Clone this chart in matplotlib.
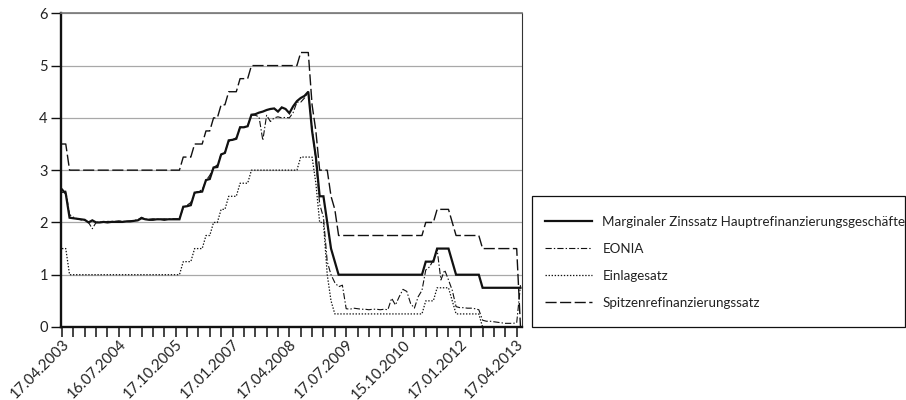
import matplotlib.pyplot as plt
import matplotlib.patches as mpatches
import numpy as np

plt.rcParams['font.family'] = ['Lato', 'DejaVu Sans']
plt.rcParams['lines.scale_dashes'] = False

# monthly values (17th of each month), April 2003 .. May 2013
mro_marginal = [
    2.63, 2.55, 2.09, 2.08, 2.07, 2.06, 2.05, 2.00, 2.04, 2.00, 2.00, 2.01,
    2.00, 2.01, 2.01, 2.01, 2.01, 2.02, 2.02, 2.03, 2.04, 2.08, 2.06, 2.05,
    2.05, 2.06, 2.06, 2.05, 2.06, 2.06, 2.06, 2.06, 2.30, 2.31, 2.33, 2.57,
    2.58, 2.59, 2.81, 2.83, 3.05, 3.06, 3.30, 3.33, 3.57, 3.58, 3.60, 3.82,
    3.82, 3.84, 4.06, 4.07, 4.10, 4.12, 4.15, 4.17, 4.18, 4.12, 4.20, 4.17,
    4.09, 4.22, 4.32, 4.38, 4.42, 4.50, 3.75, 3.25, 2.50, 2.50, 2.00, 1.50,
    1.25, 1.00, 1.00, 1.00, 1.00, 1.00, 1.00, 1.00, 1.00, 1.00, 1.00, 1.00,
    1.00, 1.00, 1.00, 1.00, 1.00, 1.00, 1.00, 1.00, 1.00, 1.00, 1.00, 1.00,
    1.25, 1.25, 1.25, 1.50, 1.50, 1.50, 1.50, 1.25, 1.00, 1.00, 1.00, 1.00,
    1.00, 1.00, 1.00, 0.75, 0.75, 0.75, 0.75, 0.75, 0.75, 0.75, 0.75, 0.75,
    0.75, 0.75,
]
eonia = [
    2.57, 2.60, 2.15, 2.10, 2.07, 2.05, 2.04, 2.00, 1.88, 2.00, 2.01, 2.00,
    2.02, 2.02, 2.02, 2.03, 2.02, 2.02, 2.03, 2.04, 2.05, 2.10, 2.06, 2.06,
    2.07, 2.06, 2.06, 2.07, 2.06, 2.07, 2.07, 2.07, 2.28, 2.33, 2.38, 2.56,
    2.60, 2.62, 2.80, 2.90, 3.05, 3.10, 3.30, 3.35, 3.55, 3.58, 3.62, 3.82,
    3.83, 3.85, 4.05, 4.05, 4.02, 3.57, 4.05, 3.93, 4.00, 4.02, 4.00, 4.01,
    4.00, 4.10, 4.30, 4.30, 4.38, 4.50, 3.80, 3.20, 2.35, 2.10, 1.25, 1.00,
    0.85, 0.77, 0.80, 0.35, 0.34, 0.36, 0.35, 0.34, 0.34, 0.33, 0.34, 0.34,
    0.33, 0.34, 0.33, 0.55, 0.42, 0.58, 0.72, 0.68, 0.45, 0.36, 0.58, 0.70,
    1.09, 1.15, 1.28, 1.48, 0.90, 1.09, 0.90, 0.70, 0.39, 0.37, 0.37, 0.36,
    0.36, 0.35, 0.33, 0.13, 0.11, 0.11, 0.10, 0.09, 0.08, 0.07, 0.07, 0.07,
    0.08, 0.80,
]
einlage = [
    1.50, 1.50, 1.00, 1.00, 1.00, 1.00, 1.00, 1.00, 1.00, 1.00, 1.00, 1.00,
    1.00, 1.00, 1.00, 1.00, 1.00, 1.00, 1.00, 1.00, 1.00, 1.00, 1.00, 1.00,
    1.00, 1.00, 1.00, 1.00, 1.00, 1.00, 1.00, 1.00, 1.25, 1.25, 1.25, 1.50,
    1.50, 1.50, 1.75, 1.75, 2.00, 2.00, 2.25, 2.25, 2.50, 2.50, 2.50, 2.75,
    2.75, 2.75, 3.00, 3.00, 3.00, 3.00, 3.00, 3.00, 3.00, 3.00, 3.00, 3.00,
    3.00, 3.00, 3.00, 3.25, 3.25, 3.25, 3.25, 2.75, 2.00, 2.00, 1.00, 0.50,
    0.25, 0.25, 0.25, 0.25, 0.25, 0.25, 0.25, 0.25, 0.25, 0.25, 0.25, 0.25,
    0.25, 0.25, 0.25, 0.25, 0.25, 0.25, 0.25, 0.25, 0.25, 0.25, 0.25, 0.25,
    0.50, 0.50, 0.50, 0.75, 0.75, 0.75, 0.75, 0.50, 0.25, 0.25, 0.25, 0.25,
    0.25, 0.25, 0.25, 0.00, 0.00, 0.00, 0.00, 0.00, 0.00, 0.00, 0.00, 0.00,
    0.00, 0.00,
]
spitzen = [
    3.50, 3.50, 3.00, 3.00, 3.00, 3.00, 3.00, 3.00, 3.00, 3.00, 3.00, 3.00,
    3.00, 3.00, 3.00, 3.00, 3.00, 3.00, 3.00, 3.00, 3.00, 3.00, 3.00, 3.00,
    3.00, 3.00, 3.00, 3.00, 3.00, 3.00, 3.00, 3.00, 3.25, 3.25, 3.25, 3.50,
    3.50, 3.50, 3.75, 3.75, 4.00, 4.00, 4.25, 4.25, 4.50, 4.50, 4.50, 4.75,
    4.75, 4.75, 5.00, 5.00, 5.00, 5.00, 5.00, 5.00, 5.00, 5.00, 5.00, 5.00,
    5.00, 5.00, 5.00, 5.25, 5.25, 5.25, 4.25, 3.75, 3.00, 3.00, 3.00, 2.50,
    2.25, 1.75, 1.75, 1.75, 1.75, 1.75, 1.75, 1.75, 1.75, 1.75, 1.75, 1.75,
    1.75, 1.75, 1.75, 1.75, 1.75, 1.75, 1.75, 1.75, 1.75, 1.75, 1.75, 1.75,
    2.00, 2.00, 2.00, 2.25, 2.25, 2.25, 2.25, 2.00, 1.75, 1.75, 1.75, 1.75,
    1.75, 1.75, 1.75, 1.50, 1.50, 1.50, 1.50, 1.50, 1.50, 1.50, 1.50, 1.50,
    1.50, 0.00,
]

date_labels = ["17.04.2003", "16.07.2004", "17.10.2005", "17.01.2007", "17.04.2008",
               "17.07.2009", "15.10.2010", "17.01.2012", "17.04.2013"]
series_names = ["Marginaler Zinssatz Hauptrefinanzierungsgeschäfte", "EONIA",
                "Einlagesatz", "Spitzenrefinanzierungssatz"]

W, H = 906, 400
fig = plt.figure(figsize=(W / 100, H / 100), dpi=100)
ax = fig.add_axes([61 / W, 1 - 327 / H, (522 - 61) / W, (327 - 13.3) / H])

x = np.arange(len(spitzen))
ink = '#111111'
l1, = ax.plot(x, mro_marginal, color=ink, lw=1.6, solid_joinstyle='miter')
l2, = ax.plot(x, eonia, color=ink, lw=0.8, linestyle=(0, (4.5, 1.5, 1.0, 1.5)))
l3, = ax.plot(x, einlage, color=ink, lw=0.9, linestyle=(0, (1.0, 1.2)))
l4, = ax.plot(x, spitzen, color=ink, lw=1.0, linestyle=(0, (8, 2.5)))

ax.set_xlim(-0.26, 121.4)
ax.set_ylim(0, 6)
ax.set_yticks(range(0, 7))
ax.grid(axis='y', color='#a8a8a8', lw=0.9)
ax.set_axisbelow(True)

# quarterly ticks, every fifth one labelled
tick_pos = np.arange(0, 121, 3)
ax.set_xticks(tick_pos)
labels = [''] * len(tick_pos)
for i, lab in enumerate(date_labels):
    labels[i * 5] = lab
ax.set_xticklabels(labels, rotation=45, ha='right', va='top', rotation_mode='anchor')

ax.tick_params(axis='x', length=7, width=1.1, pad=0.5, colors=ink, labelsize=10.8, labelcolor='#222222')
ax.tick_params(axis='y', length=7, width=1.0, pad=2.5, colors=ink, labelsize=10.5, labelcolor='#222222')

for side in ['left', 'bottom']:
    ax.spines[side].set_linewidth(1.7)
    ax.spines[side].set_color(ink)
ax.spines['top'].set_color('#777777')
ax.spines['top'].set_linewidth(1.2)
ax.spines['right'].set_color('#333333')
ax.spines['right'].set_linewidth(0.8)

# legend box drawn separately
fig.patches.append(mpatches.Rectangle((532 / W, 1 - 327 / H), (905 - 532) / W, (327 - 196) / H,
                                      transform=fig.transFigure, fill=False,
                                      edgecolor=ink, lw=0.9))
fig.legend([l1, l2, l3, l4], series_names, loc='upper left',
           bbox_to_anchor=(545 / W, 1 - 216 / H), frameon=False, borderpad=0,
           borderaxespad=0, handlelength=3.5, handletextpad=0.8,
           labelspacing=1.12, fontsize=9.6, labelcolor='#222222')

plt.savefig("out.png", dpi=100)
plt.close()
